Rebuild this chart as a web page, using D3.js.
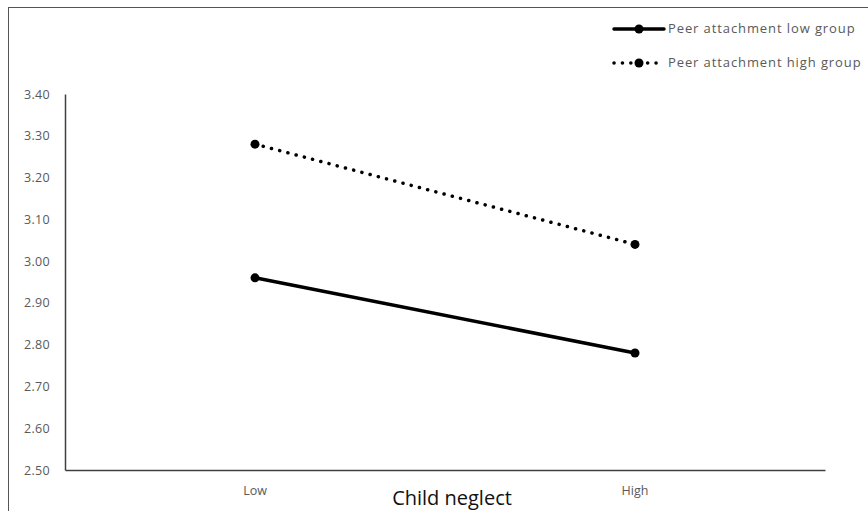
<!DOCTYPE html>
<html>
<head>
<meta charset="utf-8">
<script src="https://cdn.jsdelivr.net/npm/d3@7"></script>
<style>
  body { margin: 0; background: #fff; }
  text { font-family: "Open Sans", sans-serif; }
</style>
</head>
<body>
<svg id="chart" width="868" height="511"></svg>
<script>
// data
var categories = ['Low', 'High'];
var lowGroup = [2.96, 2.78];
var highGroup = [3.28, 3.04];
var seriesNames = ['Peer attachment low group', 'Peer attachment high group'];
var yTicks = [2.50, 2.60, 2.70, 2.80, 2.90, 3.00, 3.10, 3.20, 3.30, 3.40];

var svg = d3.select('#chart');
var margin = {top: 94, right: 43, bottom: 41, left: 65};
var width = 868 - margin.left - margin.right,
    height = 511 - margin.top - margin.bottom;

// outer chart border (cropped on right and bottom)
svg.append('rect')
  .attr('x', 8.5).attr('y', 7.5)
  .attr('width', 880).attr('height', 540)
  .attr('fill', 'none').attr('stroke', '#555').attr('stroke-width', 1);

var g = svg.append('g').attr('transform', 'translate(' + margin.left + ',' + margin.top + ')');

var x = d3.scaleBand().domain(categories).range([0, width]);
var y = d3.scaleLinear().domain([2.5, 3.4]).range([height, 0]);

// y axis
var yAxis = g.append('g').call(d3.axisLeft(y).tickValues(yTicks).tickSize(0).tickPadding(15).tickFormat(d3.format('.2f')));
yAxis.select('.domain').attr('stroke', '#404040').attr('stroke-width', 1.5);
yAxis.selectAll('text').attr('fill', '#595959').style('font-size', '12.5px').style('letter-spacing', '0.3px');

// x axis
var xAxis = g.append('g').attr('transform', 'translate(0,' + height + ')')
  .call(d3.axisBottom(x).tickSize(0).tickPadding(16));
xAxis.select('.domain').attr('stroke', '#404040').attr('stroke-width', 1.5);
xAxis.selectAll('text').attr('fill', '#595959').style('font-size', '12.5px');

g.append('text')
  .attr('x', width / 2 + 7).attr('y', height + 35)
  .attr('text-anchor', 'middle')
  .attr('fill', '#111')
  .style('font-size', '20px')
  .text('Child neglect');

var line = d3.line()
  .x(function(d, i) { return x(categories[i]) + x.bandwidth() / 2; })
  .y(function(d) { return y(d); });

var series = [
  {values: lowGroup, dash: null, width: 3.5},
  {values: highGroup, dash: '0.1,8.4', width: 3.5}
];

series.forEach(function(s) {
  g.append('path')
    .datum(s.values)
    .attr('d', line)
    .attr('fill', 'none')
    .attr('stroke', '#000')
    .attr('stroke-width', s.width)
    .attr('stroke-linecap', 'round')
    .attr('stroke-dasharray', s.dash);
  g.selectAll(null)
    .data(s.values)
    .enter().append('circle')
    .attr('cx', function(d, i) { return x(categories[i]) + x.bandwidth() / 2; })
    .attr('cy', function(d) { return y(d); })
    .attr('r', 4.5)
    .attr('fill', '#000');
});

// legend
var legend = svg.append('g').attr('transform', 'translate(614,0)');
seriesNames.forEach(function(name, i) {
  var ly = 29 + i * 34;
  var s = series[i];
  legend.append('line')
    .attr('x1', 0).attr('x2', 50).attr('y1', ly).attr('y2', ly)
    .attr('stroke', '#000').attr('stroke-width', s.width)
    .attr('stroke-linecap', 'round')
    .attr('stroke-dasharray', s.dash ? '0.1,8.3' : null);
  legend.append('circle').attr('cx', 25).attr('cy', ly).attr('r', 4.5).attr('fill', '#000');
  legend.append('text')
    .attr('x', 54).attr('y', ly + 4)
    .attr('fill', '#595959')
    .style('font-size', '13px')
    .style('letter-spacing', '0.9px')
    .text(name);
});
</script>
</body>
</html>
